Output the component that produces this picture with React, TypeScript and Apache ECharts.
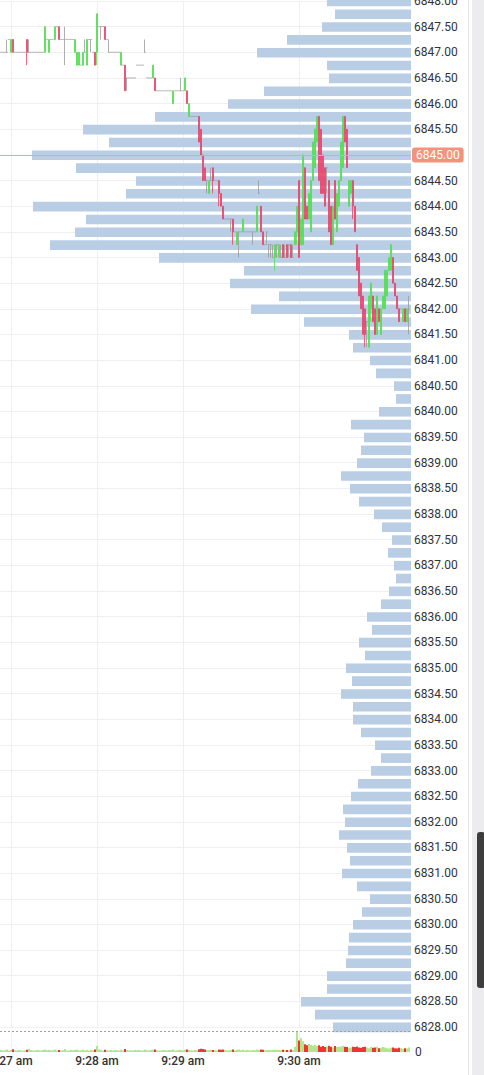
import React, { useEffect, useRef } from 'react';
import * as echarts from 'echarts';

// [open, close, low, high] per tick candle
const candles: number[][] = [
  [6847, 6847, 6847, 6847], [6847, 6847, 6847, 6847], [6847, 6847, 6847, 6847], [6847, 6847, 6847, 6847.25], [6847.25, 6847.25, 6847.25, 6847.25],
  [6847, 6847.25, 6847, 6847.25], [6847.25, 6847, 6847, 6847.25], [6847, 6847, 6847, 6847], [6847, 6847, 6847, 6847], [6847, 6847, 6847, 6847],
  [6847, 6847, 6847, 6847], [6847, 6847, 6847, 6847], [6847, 6847, 6847, 6847], [6847.25, 6847, 6846.75, 6847.25], [6847, 6847, 6847, 6847.25],
  [6847, 6847, 6847, 6847], [6847, 6847, 6847, 6847], [6847, 6847, 6847, 6847], [6847, 6847, 6847, 6847], [6847, 6847, 6847, 6847],
  [6847, 6847, 6847, 6847], [6847, 6847, 6847, 6847], [6847, 6847.5, 6847, 6847.5], [6847.25, 6847.25, 6847.25, 6847.25], [6847, 6847.25, 6847, 6847.25],
  [6847.25, 6847.25, 6847.25, 6847.25], [6847.25, 6847.25, 6847.25, 6847.25], [6847.25, 6847.5, 6847.25, 6847.5], [6847.5, 6847.5, 6847.5, 6847.5], [6847.5, 6847.25, 6847.25, 6847.5],
  [6847.25, 6847.25, 6847.25, 6847.25], [6847.25, 6847.25, 6847.25, 6847.25], [6847.25, 6847.25, 6846.75, 6847.5], [6847.25, 6847.25, 6847.25, 6847.25], [6847.25, 6847.25, 6847.25, 6847.25],
  [6847.25, 6847.25, 6847.25, 6847.25], [6847.25, 6847.25, 6847.25, 6847.25], [6847, 6847.25, 6847, 6847.25], [6846.75, 6847, 6846.75, 6847], [6846.75, 6847, 6846.75, 6847],
  [6846.75, 6846.75, 6846.75, 6846.75], [6846.75, 6847, 6846.75, 6847], [6847, 6847, 6847, 6847.25], [6846.75, 6847.25, 6846.75, 6847.25], [6847.25, 6847.25, 6847.25, 6847.25],
  [6847.25, 6847.25, 6847, 6847.25], [6847, 6847, 6847, 6847], [6847, 6846.75, 6846.75, 6847], [6847, 6847.75, 6846.75, 6847.75], [6847.5, 6847.5, 6847.5, 6847.5],
  [6847.5, 6847.5, 6847.25, 6847.5], [6847.5, 6847.5, 6847.5, 6847.5], [6847.5, 6847.25, 6847.25, 6847.5], [6847.25, 6847.25, 6847.25, 6847.25], [6847, 6847, 6847, 6847.25],
  [6847, 6847, 6847, 6847], [6847, 6847, 6847, 6847], [6847, 6847, 6847, 6847], [6847, 6847, 6847, 6847], [6847, 6847, 6847, 6847],
  [6846.75, 6847, 6846.75, 6847], [6846.75, 6846.75, 6846.75, 6846.75], [6846.75, 6846.25, 6846.25, 6846.75], [6846.5, 6846.5, 6846.25, 6846.5], [6846.5, 6846.5, 6846.5, 6846.5],
  [6846.5, 6846.5, 6846.5, 6846.5], [6846.5, 6846.5, 6846.5, 6846.5], [6846.5, 6846.5, 6846.5, 6846.5], [6846.75, 6846.75, 6846.75, 6846.75], [6846.75, 6846.75, 6846.75, 6846.75],
  [6846.75, 6846.75, 6846.75, 6846.75], [6846.75, 6846.75, 6846.75, 6846.75], [6847, 6847, 6847, 6847.25], [6846.5, 6846.5, 6846.5, 6846.5], [6846.5, 6846.5, 6846.5, 6846.5],
  [6846.5, 6846.5, 6846.5, 6846.5], [6846.5, 6846.75, 6846.5, 6846.75], [6846.5, 6846.25, 6846.25, 6846.5], [6846.25, 6846.25, 6846.25, 6846.25], [6846.25, 6846.25, 6846.25, 6846.25],
  [6846.25, 6846.25, 6846.25, 6846.25], [6846.25, 6846.25, 6846.25, 6846.25], [6846.25, 6846.25, 6846.25, 6846.25], [6846.25, 6846.25, 6846.25, 6846.25], [6846.25, 6846.25, 6846.25, 6846.25],
  [6846.25, 6846.25, 6846.25, 6846.25], [6846, 6846.25, 6846, 6846.25], [6846.25, 6846.25, 6846.25, 6846.25], [6846.25, 6846.25, 6846.25, 6846.25], [6846.25, 6846.25, 6846.25, 6846.25],
  [6846.25, 6846.25, 6846.25, 6846.5], [6846.25, 6846.25, 6846.25, 6846.25], [6846.25, 6846.5, 6846.25, 6846.5], [6846.25, 6846, 6846, 6846.25], [6845.75, 6846, 6845.75, 6846],
  [6845.75, 6845.75, 6845.75, 6845.75], [6845.75, 6845.75, 6845.75, 6845.75], [6845.75, 6845.75, 6845.75, 6845.75], [6845.75, 6845.75, 6845.75, 6845.75], [6845.75, 6845.25, 6845.25, 6845.75],
  [6845.5, 6845, 6845, 6845.5], [6845, 6844.5, 6844.5, 6845], [6844.75, 6844.5, 6844.5, 6844.75], [6844.5, 6844.5, 6844.25, 6844.5], [6844.25, 6844.5, 6844.25, 6844.5],
  [6844.5, 6844.5, 6844.5, 6844.75], [6844.75, 6844.5, 6844.25, 6844.75], [6844.5, 6844.5, 6844.5, 6844.5], [6844.5, 6844.5, 6844.5, 6844.5], [6844.5, 6844.25, 6844, 6844.5],
  [6844.25, 6844, 6844, 6844.25], [6844, 6843.75, 6843.75, 6844], [6843.75, 6843.75, 6843.75, 6843.75], [6843.75, 6843.75, 6843.75, 6843.75], [6843.75, 6843.75, 6843.75, 6843.75],
  [6843.75, 6843.75, 6843.5, 6843.75], [6843.75, 6843.5, 6843.25, 6843.75], [6843.5, 6843.5, 6843.5, 6843.5], [6843.25, 6843.5, 6843.25, 6843.5], [6843.5, 6843.5, 6843, 6843.5],
  [6843.5, 6843.5, 6843.5, 6843.5], [6843.5, 6843.75, 6843.5, 6843.75], [6843.5, 6843.5, 6843.5, 6843.5], [6843.5, 6843.5, 6843.5, 6843.5], [6843.5, 6843.5, 6843.5, 6843.5],
  [6843.5, 6843.5, 6843.5, 6843.5], [6843.5, 6843.5, 6843.25, 6843.5], [6843.5, 6843.5, 6843.5, 6843.5], [6843.5, 6844, 6843.5, 6844], [6844.25, 6844.25, 6844.25, 6844.5],
  [6844, 6843.5, 6843.5, 6844], [6843.5, 6843.25, 6843.25, 6843.5], [6843.25, 6843.25, 6843.25, 6843.25], [6843.5, 6843.5, 6843.25, 6843.5], [6843.25, 6843.25, 6843, 6843.25],
  [6843.25, 6843.25, 6843, 6843.25], [6843, 6843, 6843, 6843.25], [6843, 6843.25, 6842.75, 6843.25], [6843.25, 6843.25, 6843, 6843.25], [6843, 6843.25, 6843, 6843.25],
  [6843, 6843, 6843, 6843.25], [6843.25, 6843, 6843, 6843.25], [6843, 6843, 6843, 6843.25], [6843.25, 6843, 6843, 6843.25], [6843.25, 6843.25, 6843, 6843.25],
  [6843.25, 6843, 6843, 6843.25], [6843, 6843, 6843, 6843.25], [6843.25, 6843.5, 6843.25, 6843.5], [6843.5, 6844, 6843.25, 6844], [6844.5, 6843, 6843, 6844.5],
  [6843.25, 6843.75, 6843.25, 6843.75], [6843.25, 6845, 6843.25, 6845], [6844.75, 6843.75, 6843.75, 6844.75], [6844, 6843.75, 6843.75, 6844], [6843.75, 6844.25, 6843.75, 6844.25],
  [6843.5, 6844.5, 6843.5, 6844.5], [6844.5, 6845.25, 6844.5, 6845.25], [6844.75, 6845.5, 6844.75, 6845.5], [6845.25, 6845.75, 6845.25, 6845.75], [6845.75, 6844.5, 6844.5, 6845.75],
  [6845.5, 6844.25, 6844.25, 6845.5], [6845, 6844.25, 6844.25, 6845], [6844.75, 6844, 6844, 6844.75], [6844.75, 6844.75, 6844.25, 6844.75], [6844.5, 6843.5, 6843.5, 6844.5],
  [6844, 6843.25, 6843.25, 6844], [6843.25, 6844, 6843.25, 6844], [6844.5, 6843.75, 6843.75, 6844.5], [6843.5, 6844.25, 6843.5, 6844.25], [6844, 6844.5, 6844, 6844.5],
  [6844.5, 6845.25, 6844.5, 6845.25], [6844.75, 6845.75, 6844.75, 6845.75], [6845.75, 6845.25, 6845.25, 6845.75], [6845.5, 6844.75, 6844.75, 6845.5], [6844, 6844.5, 6844, 6844.5],
  [6844.25, 6844.5, 6844.25, 6844.5], [6844.5, 6844, 6843.75, 6844.5], [6844, 6843.5, 6843.5, 6844], [6843.25, 6842.75, 6842.75, 6843.25], [6843, 6842.25, 6842.25, 6843],
  [6842.5, 6842, 6842, 6842.5], [6842.25, 6841.5, 6841.5, 6842.25], [6842, 6841.5, 6841.25, 6842], [6841.75, 6841.75, 6841.25, 6841.75], [6841.25, 6842.25, 6841.25, 6842.25],
  [6842, 6842.5, 6841.75, 6842.5], [6842.25, 6841.75, 6841.75, 6842.25], [6842, 6841.5, 6841.5, 6842], [6841.5, 6842.25, 6841.5, 6842.25], [6842, 6841.75, 6841.75, 6842],
  [6841.5, 6842, 6841.5, 6842], [6842, 6842.25, 6842, 6842.25], [6842, 6842.75, 6842, 6842.75], [6842.25, 6842.75, 6842.25, 6842.75], [6842.75, 6843, 6842.75, 6843],
  [6842.75, 6843.25, 6842.75, 6843.25], [6843, 6842.5, 6842.5, 6843], [6842.5, 6842.25, 6842.25, 6842.5], [6842.25, 6842, 6842, 6842.25], [6842, 6841.75, 6841.75, 6842],
  [6842, 6842, 6842, 6842], [6841.75, 6842, 6841.75, 6842], [6842, 6841.75, 6841.75, 6842], [6841.75, 6842, 6841.75, 6842], [6842, 6842, 6841.5, 6842.25],
];

// traded volume per tick candle
const volumes: number[] = [
  12, 8, 10, 14, 9, 11, 16, 10, 8, 12,
  9, 7, 10, 13, 18, 11, 9, 8, 12, 10,
  9, 11, 15, 10, 12, 8, 10, 14, 9, 11,
  8, 10, 17, 9, 8, 11, 10, 12, 14, 9,
  10, 13, 9, 12, 8, 11, 10, 14, 34, 16,
  11, 9, 13, 10, 8, 12, 9, 11, 10, 8,
  13, 9, 17, 12, 8, 10, 9, 11, 10, 12,
  9, 8, 14, 10, 9, 11, 13, 15, 10, 9,
  8, 11, 10, 9, 12, 10, 14, 9, 10, 11,
  12, 9, 13, 15, 12, 10, 9, 11, 10, 16,
  18, 17, 14, 12, 11, 13, 12, 10, 9, 14,
  13, 15, 11, 9, 10, 12, 14, 10, 13, 15,
  10, 13, 9, 11, 10, 8, 12, 10, 15, 11,
  14, 13, 10, 12, 11, 10, 12, 14, 11, 12,
  10, 13, 11, 12, 10, 14, 12, 30, 120, 66,
  78, 62, 44, 38, 46, 40, 36, 42, 34, 38,
  30, 34, 28, 32, 36, 30, 26, 34, 28, 30,
  32, 36, 30, 28, 24, 26, 30, 28, 32, 26,
  24, 28, 30, 26, 22, 28, 24, 26, 30, 22,
  24, 28, 26, 22, 20, 24, 26, 22, 20, 24,
  22, 18, 22, 20, 26,
];

// volume profile: price levels and volume at each level
const profilePrices: number[] = [
  6848, 6847.75, 6847.5, 6847.25, 6847, 6846.75, 6846.5, 6846.25, 6846, 6845.75,
  6845.5, 6845.25, 6845, 6844.75, 6844.5, 6844.25, 6844, 6843.75, 6843.5, 6843.25,
  6843, 6842.75, 6842.5, 6842.25, 6842, 6841.75, 6841.5, 6841.25, 6841, 6840.75,
  6840.5, 6840.25, 6840, 6839.75, 6839.5, 6839.25, 6839, 6838.75, 6838.5, 6838.25,
  6838, 6837.75, 6837.5, 6837.25, 6837, 6836.75, 6836.5, 6836.25, 6836, 6835.75,
  6835.5, 6835.25, 6835, 6834.75, 6834.5, 6834.25, 6834, 6833.75, 6833.5, 6833.25,
  6833, 6832.75, 6832.5, 6832.25, 6832, 6831.75, 6831.5, 6831.25, 6831, 6830.75,
  6830.5, 6830.25, 6830, 6829.75, 6829.5, 6829.25, 6829, 6828.75, 6828.5, 6828.25,
  6828,
];
const profileVolumes: number[] = [
  84, 76, 89, 124, 154, 84, 82, 147, 183, 256,
  328, 302, 379, 335, 275, 285, 378, 325, 336, 361,
  252, 167, 181, 132, 160, 107, 62, 58, 41, 35,
  17, 15, 32, 60, 47, 50, 54, 70, 61, 52,
  37, 29, 19, 23, 17, 15, 22, 30, 44, 39,
  52, 46, 65, 59, 70, 58, 58, 50, 36, 30,
  40, 53, 60, 68, 66, 72, 64, 61, 69, 54,
  41, 49, 58, 62, 63, 65, 84, 84, 110, 96,
  78,
];

const tickIndex = [5, 48, 91, 149];
const tickLabels = ['9:27 am', '9:28 am', '9:29 am', '9:30 am'];
const lastPrice = 6845;
const priceMin = 6828;
const priceMax = 6848;
const profileMax = 411;
const volumeMax = 120;

const UP = '#4fe04f';
const DOWN = '#e8436a';
const DOJI = '#9a9a9a';
const VOL_UP = '#a9e480';
const VOL_DOWN = '#f21c1c';
const PROFILE = '#b9cde5';
const GRID_LINE = '#efefef';
const FONT = 'Roboto, "Noto Sans", sans-serif';

export default function App() {
  const ref = useRef<HTMLDivElement>(null);

  useEffect(() => {
    const chart = echarts.init(ref.current!, null, { renderer: 'svg' });
    const cats = candles.map((_, i) => String(i));
    const candleData = candles.map((c) => {
      const col = c[1] > c[0] ? UP : c[1] < c[0] ? DOWN : DOJI;
      return {
        value: c,
        itemStyle: { color: col, color0: col, borderColor: col, borderColor0: col, borderColorDoji: col },
      };
    });
    const volData = volumes.map((v, i) => ({
      value: v,
      itemStyle: { color: candles[i][1] < candles[i][0] ? VOL_DOWN : VOL_UP },
    }));
    const profileData = profilePrices.map((p, i) => [profileVolumes[i], p]);
    const isTick = (i: number) => tickIndex.indexOf(i) >= 0;

    const gridBase = { containLabel: false, outerBoundsMode: 'none' };

    chart.setOption({
      animation: false,
      grid: [
        { ...gridBase, left: 0, top: 1, width: 410, height: 1026 },
        { ...gridBase, left: 0, top: 1, width: 411, height: 1026 },
        { ...gridBase, left: 0, top: 1031, width: 410, height: 21 },
      ],
      xAxis: [
        {
          type: 'category', gridIndex: 0, data: cats, boundaryGap: true,
          axisLine: { show: false }, axisTick: { show: false }, axisLabel: { show: false },
          splitLine: { show: true, alignWithLabel: true, interval: (i: number) => isTick(i), lineStyle: { color: GRID_LINE, width: 1 } },
        },
        {
          type: 'value', gridIndex: 1, min: 0, max: profileMax, inverse: true, show: false,
          splitLine: { show: false },
        },
        {
          type: 'category', gridIndex: 2, data: cats, boundaryGap: true,
          axisLine: { show: false }, axisTick: { show: false },
          axisLabel: {
            interval: (i: number) => isTick(i),
            formatter: (v: string) => {
              const k = tickIndex.indexOf(Number(v));
              return k >= 0 ? tickLabels[k] : '';
            },
            color: '#333', fontSize: 12, fontFamily: FONT, fontWeight: 500, margin: 3,
            hideOverlap: false,
          },
          splitLine: { show: true, alignWithLabel: true, interval: (i: number) => isTick(i), lineStyle: { color: GRID_LINE, width: 1 } },
        },
      ],
      yAxis: [
        {
          type: 'value', gridIndex: 0, min: priceMin, max: priceMax, interval: 0.5, position: 'right',
          axisLine: { show: false }, axisTick: { show: false },
          axisLabel: {
            margin: 4, color: '#333', fontSize: 12, fontFamily: FONT,
            formatter: (v: number) => (Math.abs(v - lastPrice) < 1e-6 ? '' : v.toFixed(2)),
          },
          splitLine: { show: true, lineStyle: { color: GRID_LINE, width: 1 } },
        },
        { type: 'value', gridIndex: 1, min: priceMin, max: priceMax, show: false, splitLine: { show: false } },
        {
          type: 'value', gridIndex: 2, min: 0, max: volumeMax, interval: volumeMax, position: 'right',
          axisLine: { show: false }, axisTick: { show: false }, splitLine: { show: false },
          axisLabel: { margin: 5, color: '#333', fontSize: 12, fontFamily: FONT, showMaxLabel: false },
        },
      ],
      series: [
        {
          type: 'custom', xAxisIndex: 1, yAxisIndex: 1, z: 1, silent: true,
          renderItem: (params: any, api: any) => {
            const pt = api.coord([api.value(0), api.value(1)]);
            const cs = params.coordSys;
            const right = cs.x + cs.width;
            return {
              type: 'rect',
              shape: { x: pt[0], y: pt[1] - 4.4, width: right - pt[0], height: 9.6 },
              style: { fill: PROFILE },
            };
          },
          data: profileData,
        },
        {
          type: 'candlestick', xAxisIndex: 0, yAxisIndex: 0, z: 3, barWidth: 1.35,
          itemStyle: { borderWidth: 0.8, color: UP, color0: DOWN, borderColor: UP, borderColor0: DOWN },
          data: candleData,
          markLine: {
            symbol: 'none', silent: true, animation: false,
            lineStyle: { color: '#f5a090', width: 1, type: 'solid', opacity: 1 },
            label: {
              show: true, position: 'end', distance: 2, formatter: lastPrice.toFixed(2),
              color: '#fff', backgroundColor: '#f4937d', padding: [2, 4, 1, 4], borderRadius: 3,
              fontSize: 12, fontFamily: FONT,
            },
            data: [{ yAxis: lastPrice }],
          },
        },
        {
          type: 'bar', xAxisIndex: 2, yAxisIndex: 2, barWidth: 1.8, data: volData, silent: true,
        },
      ],
      graphic: [
        { type: 'line', silent: true, shape: { x1: 0, y1: 1031.5, x2: 411, y2: 1031.5 }, style: { stroke: '#a0a0a0', lineWidth: 1, lineDash: [2, 2] }, z: 10 },
        { type: 'line', silent: true, shape: { x1: 468.5, y1: 0, x2: 468.5, y2: 1075 }, style: { stroke: '#e2e2e2', lineWidth: 1 } },
        { type: 'rect', silent: true, shape: { x: 472, y: 0, width: 12, height: 1075 }, style: { fill: '#ececee' } },
        { type: 'rect', silent: true, shape: { x: 477, y: 832, width: 8, height: 156, r: 3 }, style: { fill: '#3d3d3d' } },
      ],
    });

    return () => chart.dispose();
  }, []);

  return <div ref={ref} style={{ position: 'absolute', left: 0, top: 0, width: 484, height: 1075, background: '#fff' }} />;
}
